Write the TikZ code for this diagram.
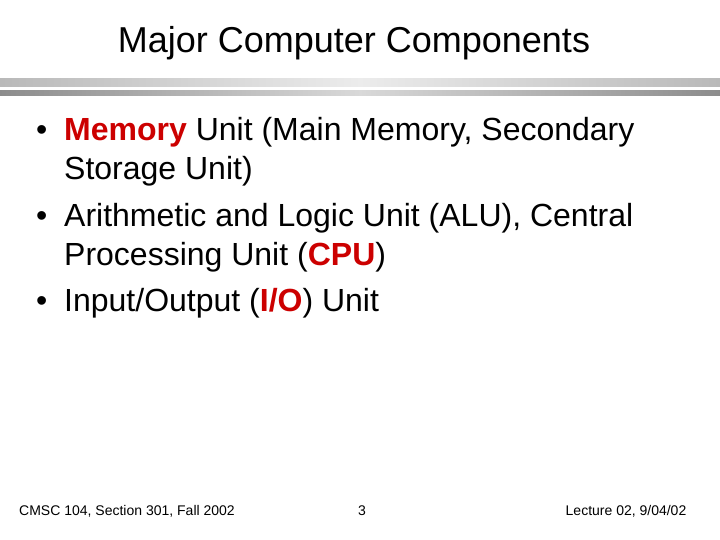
\documentclass[tikz,border=0pt]{standalone}
\usepackage{fontspec}
\setmainfont{Liberation Sans}
\definecolor{hl}{RGB}{204,0,0}
\begin{document}
\begin{tikzpicture}[x=1pt,y=-1pt,
  body/.style={anchor=base west,inner sep=0pt,font=\fontsize{32}{38}\selectfont},
  foot/.style={anchor=base,inner sep=0pt,font=\fontsize{14}{16}\selectfont}]
\useasboundingbox[fill=white] (0,0) rectangle (720,540);
\node[anchor=base,inner sep=0pt,font=\fontsize{36}{42}\selectfont] (title) at (354,53) {Major Computer Components};
\shade[left color=gray!55,right color=gray!55,middle color=gray!15] (0,79) rectangle (720,87);
\shade[left color=gray!90,right color=gray!90,middle color=gray!30] (0,91) rectangle (720,96);
\node[body] (b1) at (36,141) {•};
\node[body] (l1) at (64,141) {\textcolor{hl}{\bfseries Memory} Unit (Main Memory, Secondary};
\node[body] (l1b) at (64,180) {Storage Unit)};
\node[body] (b2) at (36,226) {•};
\node[body] (l2) at (64,226) {Arithmetic and Logic Unit (ALU), Central};
\node[body] (l2b) at (64,265) {Processing Unit (\textcolor{hl}{\bfseries CPU})};
\node[body] (b3) at (36,311) {•};
\node[body] (l3) at (64,311) {Input/Output (\textcolor{hl}{\bfseries I/O}) Unit};
\node[foot] (f1) at (127,515) {CMSC 104, Section 301, Fall 2002};
\node[foot] (f2) at (362,515) {3};
\node[foot] (f3) at (626,515) {Lecture 02, 9/04/02};
\end{tikzpicture}
\end{document}
